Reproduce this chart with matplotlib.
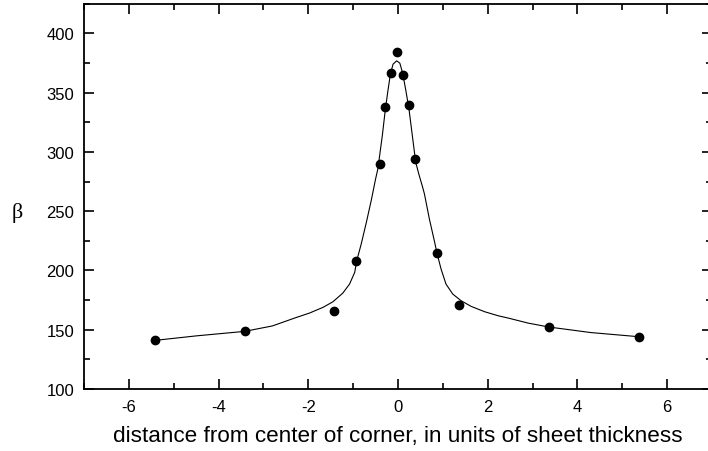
import matplotlib
matplotlib.use("Agg")
import matplotlib.pyplot as plt
from matplotlib.ticker import MultipleLocator

# measured data points
x_data = [-5.42, -3.42, -1.42, -0.93, -0.41, -0.29, -0.16, -0.02, 0.105, 0.24, 0.37, 0.86, 1.36, 3.36, 5.37]
y_data = [141.6, 148.6, 165.8, 208.2, 289.7, 337.5, 366.7, 384.4, 364.8, 339.5, 293.9, 214.4, 170.8, 152.3, 144.1]

# fitted curve
x_fit = [-5.42, -4.5, -3.42, -2.8, -2.30, -1.97, -1.67, -1.45, -1.23, -1.08, -0.965, -0.92,
         -0.82, -0.705, -0.59, -0.50, -0.45, -0.41, -0.35, -0.29, -0.23, -0.17, -0.11,
         -0.03, 0.04, 0.10, 0.17, 0.245, 0.32, 0.395, 0.47, 0.55, 0.59, 0.70, 0.81, 0.87,
         0.96, 1.07, 1.22, 1.405, 1.63, 1.93, 2.23, 2.45, 2.9, 3.36, 4.3, 5.37]
y_fit = [141.0, 144.8, 148.6, 153.2, 159.9, 164.1, 168.9, 173.6, 180.9, 188.5, 198.4, 208.2,
         222.3, 240.6, 260.2, 277.1, 285.5, 296.7, 313.6, 333.3, 350.2, 365.6, 374.0,
         376.8, 374.9, 367.0, 352.9, 336.1, 313.6, 291.2, 280.5, 270.1, 264.4, 243.3, 225.0, 214.4,
         201.2, 188.5, 180.1, 174.5, 169.7, 165.2, 161.8, 159.9, 155.6, 152.3, 147.6, 144.1]

xticks = [-6, -4, -2, 0, 2, 4, 6]
yticks = [100, 150, 200, 250, 300, 350, 400]

plt.rcParams['font.family'] = ['Liberation Sans', 'DejaVu Sans']
plt.rcParams['axes.unicode_minus'] = False

fig = plt.figure(figsize=(7.08, 4.52), dpi=100)
ax = fig.add_axes([84/708, (452-390)/452, (712-84)/708, (390-4.7)/452])

ax.plot(x_fit, y_fit, color='black', lw=0.8)
ax.plot(x_data, y_data, 'o', color='black', ms=6, mec='black')

ax.set_xlim(-7, 7)
ax.set_ylim(100, 425)
ax.set_xticks(xticks)
ax.set_yticks(yticks)
ax.xaxis.set_minor_locator(MultipleLocator(1))
ax.yaxis.set_minor_locator(MultipleLocator(25))
ax.tick_params(which='both', direction='in', top=True, right=True, width=1.2,
               labelsize=12)
ax.tick_params(axis='x', which='both', pad=7)
ax.tick_params(axis='y', which='both', pad=7)
ax.tick_params(which='major', length=7)
ax.tick_params(which='minor', length=4)
for s in ax.spines.values():
    s.set_linewidth(1.3)

ax.set_xlabel('distance from center of corner, in units of sheet thickness', fontsize=16.2, labelpad=8)
fig.text(17/708, 1 - 213/452, 'β', family=['Liberation Serif', 'DejaVu Serif'],
         fontsize=16, ha='center', va='center')

fig.savefig('out.png', dpi=100)
